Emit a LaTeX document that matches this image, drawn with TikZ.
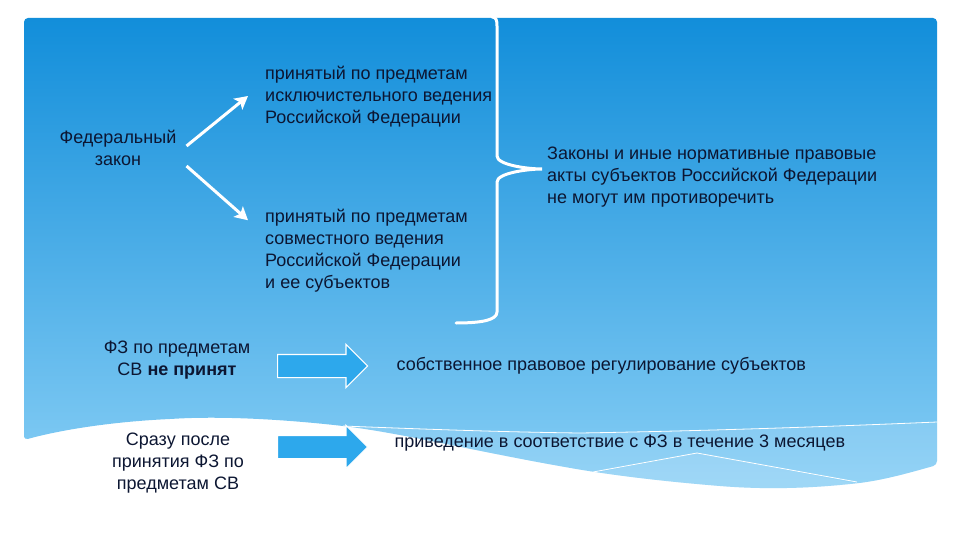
\documentclass[tikz,border=0pt]{standalone}
\usepackage{fontspec}
\setmainfont{Liberation Sans}
\usetikzlibrary{arrows.meta,positioning,shapes.arrows}
\definecolor{ink}{RGB}{12,22,50}
\definecolor{skytop}{RGB}{18,142,218}
\definecolor{skybottom}{RGB}{135,206,245}
\definecolor{arrowblue}{RGB}{45,168,236}
\tikzstyle{txt} = [font=\fontsize{18}{22}\selectfont, text=ink, inner sep=0pt, align=left]
\tikzstyle{ctxt} = [txt, align=center]
\tikzstyle{fatarrow} = [single arrow, draw=white, line width=1.2pt, fill=arrowblue,
    minimum height=90pt, minimum width=0pt, inner xsep=0pt, inner ysep=11pt,
    single arrow head extend=10pt, anchor=tail]
\tikzstyle{thinarrow} = [draw=white, line width=3pt, -{Stealth[length=13pt,width=14pt,inset=3pt]}]
\tikzstyle{curly} = [draw=white, line width=3pt, line cap=round]
\begin{document}
\begin{tikzpicture}[x=1pt, y=-1pt]
    \useasboundingbox (0,0) rectangle (960,540);
    % We start with the blue panel and its wave at the bottom
    \begin{scope}
    \clip [rounded corners=4pt] (24,440) -- (24,18) -- (937,18) -- (937,465)
        .. controls (905,474) and (880,481) .. (850,484)
        .. controls (800,489) and (760,489) .. (720,486)
        .. controls (660,481) and (610,475) .. (565,467)
        .. controls (480,452) and (400,433) .. (343,426)
        .. controls (280,419) and (220,416) .. (170,419)
        .. controls (110,422) and (60,430) .. (24,440) -- cycle;
    \shade [top color=skytop, bottom color=skybottom] (24,18) rectangle (937,490);
    \fill [white, opacity=.12] (343,426) .. controls (420,429) and (500,432) .. (580,433)
        .. controls (700,431) and (820,427) .. (937,422) -- (960,422) -- (960,540) -- (300,540) -- cycle;
    \fill [white, opacity=.1] (560,480) -- (697,453) -- (870,486) -- (870,540) -- (560,540) -- cycle;
    \draw [white, line width=.8pt] (343,426) .. controls (420,429) and (500,432) .. (580,433)
        .. controls (700,431) and (820,427) .. (937,422);
    \draw [white, line width=.8pt] (593,472) -- (697,453) -- (857,482);
    \end{scope}
    % Then we place the texts
    \node [ctxt] (fz) at (118,148) {Федеральный\\закон};
    \node [txt, anchor=west] (excl) at (265,97) {принятый по предметам\\исключистельного ведения\\Российской Федерации};
    \node [txt, anchor=west] (joint) at (265,251) {принятый по предметам\\совместного ведения\\Российской Федерации\\и ее субъектов};
    \node [txt, anchor=west] (laws) at (547,177) {Законы и иные нормативные правовые\\акты субъектов Российской Федерации\\не могут им противоречить};
    \node [ctxt] (notpass) at (177,360) {ФЗ по предметам\\СВ \textbf{не принят}};
    \node [ctxt] (after) at (178,463) {Сразу после\\принятия ФЗ по\\предметам СВ};
    \node [fatarrow] (arr1) at (277,366) {};
    \node [fatarrow] (arr2) at (277,447) {};
    \node [txt, right=28pt of arr1.tip] (own) {собственное правовое регулирование субъектов};
    \node [txt, right=26pt of arr2.tip, yshift=4pt] (bring) {приведение в соответствие с ФЗ в течение 3 месяцев};
    % Once the texts are placed, the arrows and the brace follow
    \draw [thinarrow] ([shift={(10,-2)}]fz.east) -- ([shift={(-17,-1)}]excl.west);
    \draw [thinarrow] ([shift={(10,18)}]fz.east) -- ([shift={(-17,11)}]joint.north west);
    \draw [curly] (492,17) .. controls (496,17) and (497,20) .. (497,26) -- (497,156)
        .. controls (497,165) and (528,169) .. (542,169)
        .. controls (528,169) and (497,173) .. (497,182) -- (497,312)
        .. controls (497,320) and (482,323) .. (456,323);
\end{tikzpicture}
\end{document}
